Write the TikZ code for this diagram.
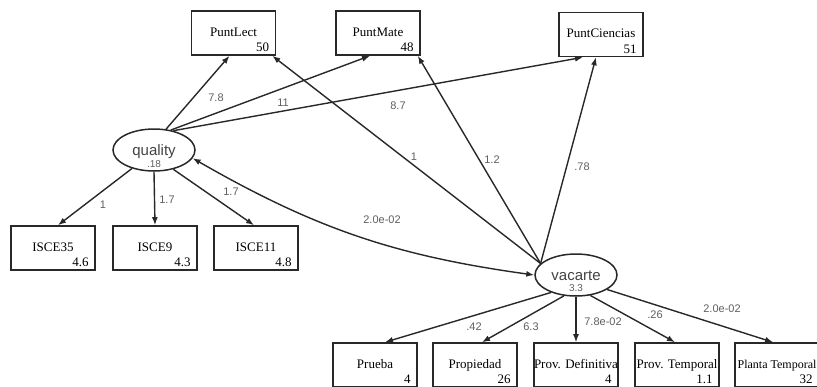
\documentclass[tikz,border=0pt]{standalone}
\usepackage{fontspec}
\setmainfont{Liberation Serif}
\newfontfamily\pathfont{Liberation Sans}
\usetikzlibrary{arrows.meta,shapes.geometric,calc}
\definecolor{linegray}{RGB}{40,40,40}
\definecolor{lblgray}{RGB}{95,95,95}
\begin{document}
\begin{tikzpicture}[x=1pt,y=1pt,yscale=-1,xscale=1,
  obs/.style={draw=linegray, line width=1.6pt, fill=white, minimum width=84pt, minimum height=44pt, inner sep=0pt, text height=9pt, text depth=3pt, font=\fontsize{13}{13}\selectfont},
  obsval/.style={anchor=base east, inner sep=0pt, xshift=-7pt, yshift=4pt, font=\fontsize{13}{13}\selectfont},
  latent/.style={ellipse, draw=linegray, line width=1.5pt, minimum width=82pt, minimum height=42pt, inner sep=0pt},
  latname/.style={text=lblgray!70!black, font=\pathfont\fontsize{15}{15}\selectfont, inner sep=0pt},
  latval/.style={text=lblgray, font=\pathfont\fontsize{10}{10}\selectfont, inner sep=0pt},
  sempath/.style={draw=linegray, line width=1.4pt, -{Latex[length=8pt,width=6pt]}},
  coef/.style={text=lblgray, font=\pathfont\fontsize{11}{11}\selectfont, inner sep=1pt}]
\clip (0,0) rectangle (817,386);

%Observed variables, top row
\node[obs, label={[obsval]south east:50}] (lect) at (233.5,33) {PuntLect};
\node[obs, label={[obsval]south east:48}] (mate) at (378,33) {PuntMate};
\node[obs, label={[obsval]south east:51}] (ciencias) at (601,34.5) {PuntCiencias};
%Observed variables, indicators of quality
\node[obs, label={[obsval]south east:4.6}] (isce35) at (53,248) {ISCE35};
\node[obs, label={[obsval]south east:4.3}] (isce9) at (155,248) {ISCE9};
\node[obs, label={[obsval]south east:4.8}] (isce11) at (256,248) {ISCE11};
%Observed variables, indicators of vacarte
\node[obs, label={[obsval]south east:4}] (prueba) at (375,365) {Prueba};
\node[obs, label={[obsval]south east:26}] (propiedad) at (475,365) {Propiedad};
\node[obs, label={[obsval]south east:4}] (provdef) at (576,365) {Prov. Definitiva};
\node[obs, label={[obsval]south east:1.1}] (provtemp) at (677,365) {Prov. Temporal};
\node[obs, font=\fontsize{12}{12}\selectfont, label={[obsval]south east:32}] (planta) at (777,365) {Planta Temporal};

%Latent variables
\node[latent] (quality) at (154,150) {};
\node[latname] (qualityname) at ($(quality)+(0,2)$) {quality};
\node[latval] (qualityval) at ($(quality)+(0,14)$) {.18};
\node[latent] (vacarte) at (576,275) {};
\node[latname] (vacartename) at ($(vacarte)+(0,1)$) {vacarte};
\node[latval] (vacarteval) at ($(vacarte)+(0,13)$) {3.3};

%Paths from quality
\draw[sempath] (quality.60) -- ([xshift=-4pt]lect.south);
\draw[sempath] (quality.50) -- ([xshift=-8pt]mate.south);
\draw[sempath] (quality.45) -- ([xshift=-18pt]ciencias.south);
\draw[sempath] (quality.220) -- ([xshift=5pt]isce35.north);
\draw[sempath] (quality.south) -- (isce9.north);
\draw[sempath] (quality.315) -- ([xshift=-2pt]isce11.north);
%Paths from vacarte
\draw[sempath] (vacarte.162) -- ([xshift=-4pt]lect.south east);
\draw[sempath] (vacarte.162) -- ([xshift=-3pt]mate.south east);
\draw[sempath] (vacarte.162) -- ([xshift=-5pt]ciencias.south);
\draw[sempath] (vacarte.215) -- ([xshift=10pt]prueba.north);
\draw[sempath] (vacarte.240) -- ([xshift=7pt]propiedad.north);
\draw[sempath] (vacarte.south) -- (provdef.north);
\draw[sempath] (vacarte.305) -- ([xshift=-2pt]provtemp.north);
\draw[sempath] (vacarte.335) -- ([xshift=-4pt]planta.north);
%Covariance
\draw[sempath, {Latex[length=8pt,width=6pt]}-{Latex[length=8pt,width=6pt]}] (quality.-12) to[bend left=11] (vacarte.west);

% Text Node
\node[coef] (c1) at (216,98) {7.8};
\node[coef] (c2) at (283,103) {11};
\node[coef] (c3) at (398,106) {8.7};
\node[coef] (c4) at (414,157) {1};
\node[coef] (c5) at (492,160) {1.2};
\node[coef] (c6) at (582,167) {.78};
\node[coef] (c7) at (103,205) {1};
\node[coef] (c8) at (167,200) {1.7};
\node[coef] (c9) at (231,192) {1.7};
\node[coef] (c10) at (382,220) {2.0e-02};
\node[coef] (c11) at (474,327) {.42};
\node[coef] (c12) at (531,327) {6.3};
\node[coef] (c13) at (603,322) {7.8e-02};
\node[coef] (c14) at (655,315) {.26};
\node[coef] (c15) at (722,309) {2.0e-02};

\end{tikzpicture}
\end{document}
